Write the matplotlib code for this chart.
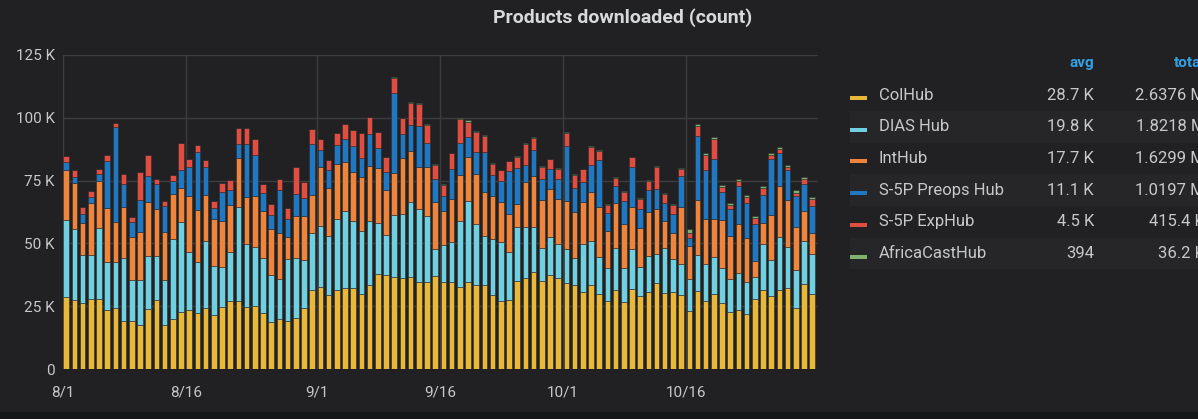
import numpy as np
import pandas as pd
import matplotlib.pyplot as plt
from matplotlib.patches import Rectangle

plt.rcParams.update({
    "font.family": ["Roboto", "DejaVu Sans"],
    "font.size": 11,
})

# Daily download counts (thousands), 1 Aug - 31 Oct
dates = pd.date_range("2019-08-01", "2019-10-31", freq="D")

colhub = [28.6, 27.6, 26.1, 27.8, 28.0, 23.6, 24.1, 19.3, 19.3, 17.5,
          24.0, 27.6, 17.5, 20.0, 22.5, 23.5, 22.2, 24.1, 21.6, 24.5,
          27.2, 27.0, 24.7, 24.9, 22.2, 18.9, 20.0, 19.3, 20.4, 24.4,
          31.5, 32.7, 29.4, 31.4, 32.4, 32.4, 29.8, 33.5, 37.8, 37.6,
          36.7, 36.3, 36.7, 34.8, 34.8, 37.1, 34.8, 34.8, 32.6, 34.5,
          33.6, 33.6, 29.3, 26.9, 27.6, 34.9, 36.4, 38.8, 35.2, 37.6,
          36.3, 34.4, 33.5, 30.7, 33.5, 29.7, 26.9, 31.6, 26.6, 31.9,
          28.9, 30.7, 34.2, 30.3, 30.5, 29.5, 22.9, 30.9, 27.0, 29.8,
          26.1, 22.5, 23.3, 21.8, 27.7, 31.5, 28.9, 31.6, 32.2, 24.3,
          34.0, 29.9]
dias_hub = [30.7, 28.1, 19.1, 17.4, 28.1, 18.9, 18.3, 24.9, 16.1, 17.8,
            20.8, 17.3, 17.8, 31.6, 36.1, 23.1, 20.3, 26.9, 19.3, 16.0,
            19.3, 37.3, 25.2, 23.5, 21.8, 18.6, 15.8, 24.5, 23.9, 18.9,
            22.8, 24.4, 23.7, 28.2, 30.3, 26.4, 25.1, 25.3, 20.4, 15.7,
            24.8, 25.3, 29.7, 28.9, 26.2, 10.7, 14.6, 15.6, 26.4, 32.3,
            24.0, 19.3, 22.3, 23.6, 19.1, 21.8, 20.2, 17.8, 12.9, 15.0,
            13.6, 13.2, 10.8, 19.1, 17.5, 15.0, 13.4, 16.5, 13.6, 15.7,
            11.9, 14.4, 11.5, 17.8, 13.3, 12.4, 12.9, 14.6, 14.9, 14.9,
            14.2, 13.4, 14.8, 12.8, 8.8, 18.3, 14.5, 21.0, 16.5, 15.0,
            17.0, 15.8]
inthub = [20.0, 18.2, 13.1, 21.0, 18.9, 21.4, 16.1, 20.2, 17.3, 19.4,
          21.8, 18.9, 19.4, 18.2, 13.3, 22.2, 20.8, 18.3, 18.9, 18.6,
          18.7, 19.5, 18.5, 20.4, 18.9, 18.1, 18.5, 8.7, 16.6, 17.7,
          15.0, 23.2, 19.0, 22.2, 19.9, 19.5, 21.5, 22.2, 21.9, 18.1,
          16.7, 22.4, 20.3, 16.9, 19.6, 18.7, 13.3, 17.3, 18.3, 17.5,
          19.9, 17.7, 17.3, 16.1, 14.9, 8.8, 17.7, 20.3, 19.1, 19.1,
          17.8, 19.3, 18.3, 16.7, 19.5, 19.6, 14.6, 17.9, 17.7, 17.0,
          15.2, 17.5, 18.1, 10.8, 10.4, 22.4, 13.3, 21.6, 17.8, 15.2,
          18.9, 17.1, 19.5, 17.5, 6.5, 8.3, 17.9, 20.2, 18.5, 17.1,
          11.9, 8.4]
preops_hub = [3.0, 2.6, 3.3, 2.4, 2.5, 19.0, 37.7, 9.1, 5.9, 12.5,
              10.2, 9.9, 10.2, 5.1, 7.4, 11.7, 22.9, 11.3, 4.2, 11.5,
              6.1, 5.8, 21.0, 16.2, 7.1, 5.7, 17.1, 7.1, 8.7, 6.9,
              20.2, 6.9, 7.0, 7.4, 9.1, 10.5, 7.6, 12.7, 8.0, 7.1,
              31.8, 9.6, 10.5, 16.1, 9.4, 9.0, 6.1, 12.0, 12.8, 8.2,
              8.7, 15.7, 8.3, 8.4, 17.1, 14.4, 7.0, 10.3, 8.4, 8.0,
              8.0, 22.0, 9.6, 8.0, 10.7, 19.0, 7.1, 6.9, 8.8, 15.8,
              7.6, 8.8, 7.8, 7.0, 7.4, 12.5, 3.2, 25.6, 19.4, 23.6,
              11.3, 10.5, 15.2, 14.1, 14.6, 11.2, 22.2, 13.1, 12.0, 12.5,
              10.9, 10.8]
exphub = [2.6, 2.9, 2.8, 2.2, 2.0, 2.1, 1.7, 4.2, 2.0, 11.1,
          8.3, 1.8, 2.0, 2.4, 10.8, 3.2, 2.8, 2.5, 2.9, 3.6,
          4.1, 6.5, 6.7, 6.6, 3.8, 4.2, 4.2, 4.4, 10.7, 6.6,
          6.1, 4.5, 4.2, 4.6, 5.9, 6.2, 9.8, 6.5, 6.2, 5.7,
          5.9, 6.2, 8.7, 8.7, 7.1, 5.9, 4.6, 6.1, 9.5, 5.7,
          8.2, 6.3, 4.6, 4.1, 4.0, 4.5, 8.3, 4.7, 5.0, 3.7,
          4.0, 5.1, 5.1, 5.0, 7.1, 3.6, 3.3, 3.2, 3.8, 3.8,
          4.1, 3.4, 8.8, 3.8, 3.7, 2.9, 2.0, 4.0, 5.9, 8.2,
          1.8, 1.6, 2.0, 2.1, 2.4, 2.9, 1.7, 1.5, 1.3, 1.3,
          1.7, 2.6]
africacast = [0.0] * 36 + [
    0.3, 0.2, 0.2, 0.2,
    0.4, 0.3, 0.3, 0.3, 0.3, 0.3, 0.2, 0.2, 0.3, 0.9,
    0.4, 0.4, 0.3, 0.2, 0.3, 0.2, 0.5, 0.3, 0.3, 0.3,
    0.3, 0.4, 0.3, 0.3, 0.4, 0.3, 0.3, 0.3, 0.3, 0.3,
    0.5, 0.3, 0.3, 0.3, 0.3, 0.3, 1.4, 0.9, 0.8, 0.7,
    0.8, 0.8, 1.0, 0.9, 0.9, 0.8, 0.8, 0.9, 0.9, 0.9,
    0.9, 0.9]

series_names = ["ColHub", "DIAS Hub", "IntHub", "S-5P Preops Hub",
                "S-5P ExpHub", "AfricaCastHub"]
series_values = [colhub, dias_hub, inthub, preops_hub, exphub, africacast]
series_avg = ["28.7 K", "19.8 K", "17.7 K", "11.1 K", "4.5 K", "394"]
series_total = ["2.6376 M", "1.8218 M", "1.6299 M", "1.0197 M",
                "415.4 K", "36.2 K"]
tick_dates = ["2019-08-01", "2019-08-16", "2019-09-01", "2019-09-16",
              "2019-10-01", "2019-10-16"]
tick_labels = ["8/1", "8/16", "9/1", "9/16", "10/1", "10/16"]

colors = ["#EAB839", "#6ED0E0", "#EF843C", "#1F78C1", "#E24D42", "#7EB26D"]

BG = "#212124"
TEXT = "#c7c8ca"
W, H = 1198, 419

fig = plt.figure(figsize=(W / 100, H / 100), dpi=100, facecolor=BG)
fig.patches.append(Rectangle((0, 0), 1, 7 / H, transform=fig.transFigure,
                             facecolor="#161719", edgecolor="none"))

ax = fig.add_axes([63 / W, 50 / H, 755 / W, 314 / H], facecolor=BG)

# day offset from 1 Aug; bars sit at the middle of each day's bucket
start = dates[0]
x = (dates - start).days.values + 0.4
bottom = np.zeros(len(x))
for name, vals, c in zip(series_names, series_values, colors):
    v = np.array(vals) * 1000
    ax.bar(x, v, width=0.68, bottom=bottom, color=c, edgecolor="#2b2b2b",
           linewidth=0.4, zorder=3, label=name)
    bottom += v

ax.set_xlim(0, 92.1)
ax.set_ylim(0, 125000)
ax.set_yticks(np.arange(0, 125001, 25000))
ax.set_yticklabels(["0" if t == 0 else f"{t // 1000:.0f} K"
                    for t in np.arange(0, 125001, 25000)])
ax.set_xticks([(pd.Timestamp(d) - start).days for d in tick_dates])
ax.set_xticklabels(tick_labels)
ax.tick_params(colors=TEXT, length=0, labelsize=11)
ax.tick_params(axis="y", pad=6)
ax.tick_params(axis="x", pad=12)
ax.grid(True, color="#3d3d40", linewidth=1, zorder=0)
for s in ax.spines.values():
    s.set_visible(False)

fig.text(623 / W, 1 - 18 / H, "Products downloaded (count)", color="#d8d9da",
         fontsize=14, fontweight="bold", ha="center", va="center")

# legend table with avg / total columns
avg_right = 1094
total_right = 1205
header_y = 63
fig.text(avg_right / W, 1 - header_y / H, "avg", color="#33a2e5",
         fontsize=11, fontweight="bold", ha="right", va="center")
fig.text(total_right / W, 1 - header_y / H, "total", color="#33a2e5",
         fontsize=11, fontweight="bold", ha="right", va="center")
row_h = 31.7
for i, (name, c, a, t) in enumerate(zip(series_names, colors,
                                         series_avg, series_total)):
    yc = 95 + i * row_h
    if i % 2 == 1:
        fig.patches.append(Rectangle((850 / W, 1 - (yc + row_h / 2) / H),
                                     1, row_h / H, transform=fig.transFigure,
                                     facecolor="#262629", edgecolor="none"))
    fig.patches.append(Rectangle((850 / W, 1 - (yc + 5) / H), 17 / W, 4 / H,
                                 transform=fig.transFigure, facecolor=c,
                                 edgecolor="none"))
    fig.text(879 / W, 1 - yc / H, name, color=TEXT, fontsize=12,
             ha="left", va="center")
    fig.text(avg_right / W, 1 - yc / H, a, color=TEXT, fontsize=12,
             ha="right", va="center")
    fig.text(total_right / W, 1 - yc / H, t, color=TEXT, fontsize=12,
             ha="right", va="center")

fig.savefig("out.png", dpi=100, facecolor=BG)
